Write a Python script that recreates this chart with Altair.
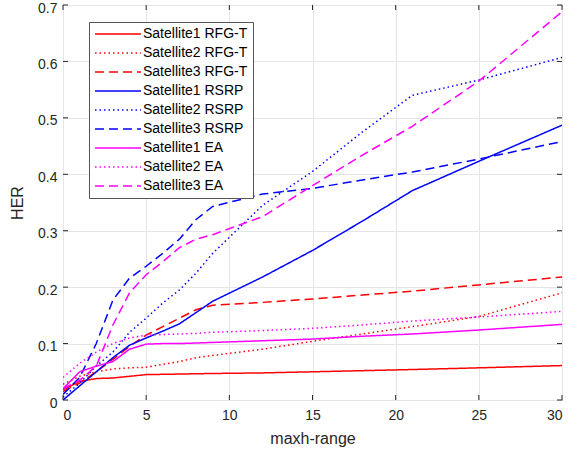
import altair as alt
import pandas as pd

X = [0, 1, 2, 3, 4, 5, 6, 7, 8, 9, 12, 15, 18, 21, 25, 30]

SERIES = [
    "Satellite1 RFG-T", "Satellite2 RFG-T", "Satellite3 RFG-T",
    "Satellite1 RSRP", "Satellite2 RSRP", "Satellite3 RSRP",
    "Satellite1 EA", "Satellite2 EA", "Satellite3 EA",
]

S1_RFGT = [0.018, 0.033, 0.038, 0.039, 0.042, 0.045, 0.0455, 0.046, 0.0465, 0.047, 0.048, 0.050, 0.052, 0.054, 0.057, 0.061]
S2_RFGT = [0.028, 0.042, 0.050, 0.055, 0.057, 0.058, 0.063, 0.068, 0.075, 0.079, 0.090, 0.104, 0.117, 0.130, 0.148, 0.190]
S3_RFGT = [0.015, 0.030, 0.050, 0.072, 0.095, 0.115, 0.130, 0.145, 0.160, 0.168, 0.173, 0.179, 0.186, 0.193, 0.204, 0.218]
S1_RSRP = [0.000, 0.025, 0.050, 0.075, 0.097, 0.110, 0.122, 0.135, 0.155, 0.175, 0.218, 0.265, 0.317, 0.371, 0.423, 0.487]
S2_RSRP = [0.005, 0.030, 0.060, 0.085, 0.120, 0.145, 0.172, 0.195, 0.225, 0.260, 0.345, 0.405, 0.475, 0.540, 0.567, 0.607]
S3_RSRP = [0.010, 0.040, 0.100, 0.177, 0.216, 0.237, 0.260, 0.285, 0.320, 0.343, 0.365, 0.375, 0.390, 0.404, 0.427, 0.458]
S1_EA = [0.020, 0.050, 0.060, 0.068, 0.090, 0.099, 0.100, 0.100, 0.101, 0.102, 0.105, 0.108, 0.113, 0.117, 0.124, 0.134]
S2_EA = [0.040, 0.065, 0.085, 0.100, 0.110, 0.115, 0.116, 0.117, 0.118, 0.120, 0.123, 0.127, 0.133, 0.140, 0.147, 0.157]
S3_EA = [0.020, 0.035, 0.060, 0.133, 0.190, 0.222, 0.245, 0.270, 0.285, 0.293, 0.325, 0.380, 0.434, 0.485, 0.565, 0.688]

VALUES = [S1_RFGT, S2_RFGT, S3_RFGT, S1_RSRP, S2_RSRP, S3_RSRP, S1_EA, S2_EA, S3_EA]

X_TICKS = [0, 5, 10, 15, 20, 25, 30]
Y_TICKS = [0, 0.1, 0.2, 0.3, 0.4, 0.5, 0.6, 0.7]

COLORS = ["#ff0000"] * 3 + ["#0000ff"] * 3 + ["#ff00ff"] * 3
DASHES = [[1, 0], [1.5, 3], [9, 5]] * 3

rows = []
for name, ys in zip(SERIES, VALUES):
    for x, y in zip(X, ys):
        rows.append({"x": x, "y": y, "series": name})
df = pd.DataFrame(rows)

W, H = 499, 395
FONT = "Liberation Sans"

xscale = alt.Scale(domain=[0, 30], nice=False, zero=False)
yscale = alt.Scale(domain=[0, 0.7], nice=False, zero=False)
xaxis = alt.Axis(values=X_TICKS, title="maxh-range", format="~g", labelPadding=8, titlePadding=8)
yaxis = alt.Axis(values=Y_TICKS, title="HER", format="~g", labelOffset=3, labelPadding=6, titlePadding=12)

lines = alt.Chart(df).mark_line(strokeWidth=1.5, clip=True).encode(
    x=alt.X("x:Q", scale=xscale, axis=xaxis),
    y=alt.Y("y:Q", scale=yscale, axis=yaxis),
    color=alt.Color("series:N", scale=alt.Scale(domain=SERIES, range=COLORS),
                    legend=alt.Legend(
                        orient="none", legendX=26, legendY=17, title=None,
                        symbolType="M-4,0H4", symbolSize=132, symbolStrokeWidth=1.5,
                        symbolOffset=17, labelOffset=18,
                        labelFontSize=14, labelFont=FONT, labelColor="#000000",
                        rowPadding=5, padding=5, labelLimit=0,
                        strokeColor="#555555", fillColor="#ffffff")),
    strokeDash=alt.StrokeDash("series:N", scale=alt.Scale(domain=SERIES, range=DASHES)),
    order=alt.Order("x:Q"),
)

xt = pd.DataFrame({"x": X_TICKS})
yt = pd.DataFrame({"y": Y_TICKS})

tick_style = dict(color="#262626", strokeWidth=1)
xb = alt.Chart(xt).mark_rule(**tick_style).encode(
    x=alt.X("x:Q", scale=xscale, axis=xaxis), y=alt.value(H), y2=alt.value(H - 5))
xtop = alt.Chart(xt).mark_rule(**tick_style).encode(
    x=alt.X("x:Q", scale=xscale, axis=xaxis), y=alt.value(0), y2=alt.value(5))
yl = alt.Chart(yt).mark_rule(**tick_style).encode(
    y=alt.Y("y:Q", scale=yscale, axis=yaxis), x=alt.value(0), x2=alt.value(5))
yr = alt.Chart(yt).mark_rule(**tick_style).encode(
    y=alt.Y("y:Q", scale=yscale, axis=yaxis), x=alt.value(W), x2=alt.value(W - 5))

chart = alt.layer(lines, xb, xtop, yl, yr).properties(
    width=W, height=H,
    autosize=alt.AutoSizeParams(type="none"),
    padding={"left": 63, "top": 5, "right": 19, "bottom": 51},
    background="white",
).configure_view(
    stroke="#262626", strokeWidth=1
).configure_axis(
    labelFont=FONT, labelFontSize=14, labelColor="#262626",
    titleFont=FONT, titleFontSize=16, titleColor="#262626", titleFontWeight="normal",
    grid=True, gridColor="#e5e5e5", gridWidth=1,
    domain=False, ticks=False,
)

chart.save("out.html", embed_options={"renderer": "svg", "actions": False})
